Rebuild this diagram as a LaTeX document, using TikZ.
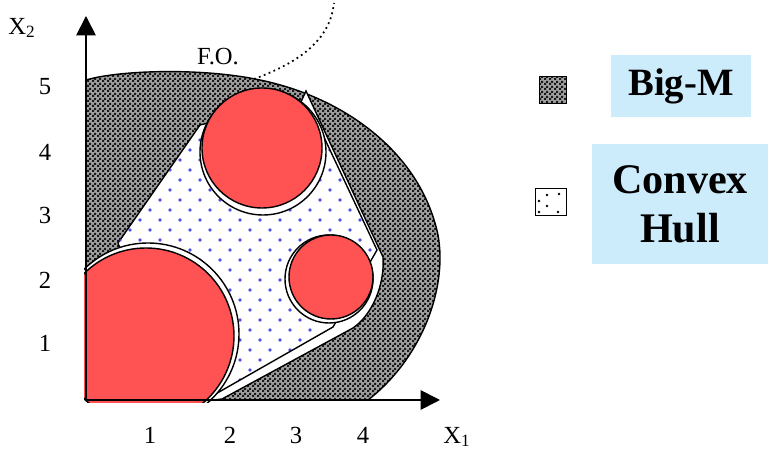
\documentclass[tikz,border=0pt]{standalone}
\usepackage{fontspec}
\setmainfont{Liberation Serif}
\usetikzlibrary{arrows.meta,patterns,patterns.meta}

\definecolor{disk}{RGB}{255,82,82}
\definecolor{legendblue}{RGB}{204,236,252}
\definecolor{dotblue}{RGB}{80,80,230}

\pgfdeclarepattern{name=bigmcheck, type=uncolored,
  bottom left={\pgfpointorigin}, top right={\pgfpoint{2.6pt}{2.6pt}},
  tile size={\pgfpoint{2.6pt}{2.6pt}},
  code={\pgfpathrectangle{\pgfpointorigin}{\pgfpoint{1.3pt}{1.3pt}}
        \pgfpathrectangle{\pgfpoint{1.3pt}{1.3pt}}{\pgfpoint{1.3pt}{1.3pt}}
        \pgfusepath{fill}}}

\tikzset{
  bigm/.style={preaction={fill=gray!75}, pattern=bigmcheck, pattern color=black!90},
  ticklabel/.style={font=\fontsize{14}{16}\selectfont},
  legendbox/.style={fill=legendblue, align=center},
  halo/.style={fill=white, draw=black, line width=0.8pt},
  disc/.style={fill=disk, draw=black, line width=0.8pt},
}

\begin{document}
\begin{tikzpicture}[x=0.02cm, y=-0.02cm, >={Triangle[length=11pt,width=11pt]}]
  \useasboundingbox (0,0) rectangle (769,452);

  % Big-M region
  \draw[bigm, line width=0.8pt] (86,80) .. controls (120,70) and (200,68) .. (255,79)
    .. controls (340,95) and (420,150) .. (438,235)
    .. controls (448,290) and (420,360) .. (368,400) -- (86,400) -- cycle;

  % gap between Big-M and the hull
  \draw[fill=white, line width=0.8pt] (200,125) -- (118,243) -- (150,330) -- (205,401)
    -- (222,399) -- (353,328) .. controls (372,315) and (385,285) .. (383,257)
    -- (306,91) -- (300,104) -- (262,110) -- cycle;

  % Convex hull (dotted)
  \begin{scope}
    \clip (200,127) -- (118,243) -- (205,400) -- (333,327) -- (377,250) -- (322,133) -- cycle;
    \foreach \j in {0,...,29}
      \foreach \i in {0,...,15}
        \fill[dotblue] ({90+20*\i+10*mod(\j,2)},{110+10*\j}) circle (1.8);
  \end{scope}
  \draw[line width=0.8pt] (205,400) -- (333,327) -- (377,250) -- (322,133);

  % Disks
  \draw[halo] (263,152) circle (63);
  \draw[disc] (262,148) circle (60);
  \draw[halo] (329,279) circle (44);
  \draw[disc] (331,277) circle (42);
  \begin{scope}
    \clip (84,200) rectangle (260,403);
    \draw[halo] (148,334) circle (91);
    \draw[disc] (146,336) circle (88);
  \end{scope}

  % Objective function
  \coordinate (fo) at (254,79);
  \coordinate (foend) at (334,3);
  \draw[dotted, line width=1pt] (fo) .. controls (300,62) and (330,40) .. (foend);
  \node[ticklabel] (folab) at (218,57) {F.O.};

  % Axes
  \coordinate (O) at (86,400);
  \coordinate (xtip) at (440,400);
  \coordinate (ytip) at (86,16);
  \draw[->, line width=1pt] (O) -- (xtip);
  \draw[->, line width=1pt] (O) -- (ytip);
  \node[ticklabel] (x2lab) at (22,28) {X\textsubscript{2}};
  \node[ticklabel] (x1lab) at (457,437) {X\textsubscript{1}};
  \foreach \v/\y in {1/343,2/280,3/215,4/152,5/87}
    \node[ticklabel] (ytick\v) at (45,\y) {\v};
  \foreach \v/\x in {1/150,2/230,3/296,4/363}
    \node[ticklabel] (xtick\v) at (\x,435) {\v};

  % Legend
  \node[legendbox, minimum width=2.82cm, minimum height=1.26cm,
    font=\fontsize{22}{26}\selectfont\bfseries] (bigmlab) at (681,86) {Big-M};
  \node[legendbox, minimum width=3.52cm, minimum height=2.42cm,
    font=\fontsize{24}{28}\selectfont\bfseries] (hulllab) at (680,204) {Convex\\Hull};
  \node[draw, line width=0.8pt, bigm, minimum size=0.54cm] (bigmkey) at (553,90) {};
  \node[draw, line width=0.8pt, fill=white, minimum width=0.62cm,
    minimum height=0.54cm] (hullkey) at (551,202) {};
  \foreach \p in {(547,195),(559,194),(539,201),(547,206),(558,212),(539,212)}
    \fill \p circle (1.3);
\end{tikzpicture}
\end{document}
